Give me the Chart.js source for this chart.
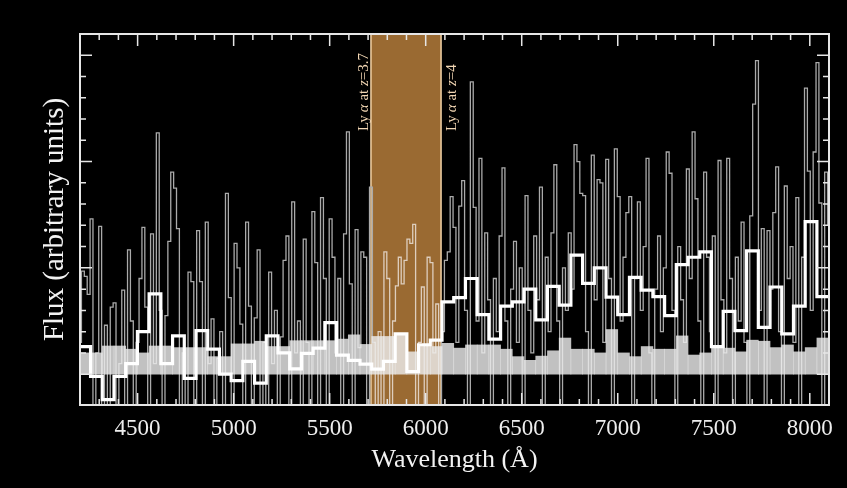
<!DOCTYPE html>
<html>
<head>
<meta charset="utf-8">
<title>Spectrum with Ly-alpha window</title>
<script src="https://cdn.jsdelivr.net/npm/chart.js@4.4.1/dist/chart.umd.min.js"></script>
<style>
  html, body { margin: 0; padding: 0; background: #000; }
  #wrap { width: 847px; height: 488px; }
</style>
</head>
<body>
<div id="wrap"><canvas id="specChart" width="847" height="488"></canvas></div>
<script>
// ================================
// Data
// ================================

// raw spectrum, sampled every 15 A from 4200 A
const specStart = 4200;
const specStep = 15;
const specFlux = [
  0.3, 0.97, 0.92, 0.75, 1.46, -0.6, 0.2, 1.39, -0.5, 0.46,
  -0.8, 0.63, 0.67, -0.4, 0.1, 0.79, -0.7, 1.17, 0.5, -0.5,
  0.3, 0.9, 1.38, 0.63, -0.6, 1.32, 0.1, 2.27, 0.6, -0.7,
  0.55, 1.25, 1.9, 1.75, 1.37, -0.4, 0.2, -0.9, 0.96, 0.87,
  -0.3, 1.35, 0.87, -0.6, 1.43, 0.1, 0.52, -0.8, 0.15, 0.4,
  -0.5, 1.7, 0.72, -0.4, 1.23, 1.0, 0.47, -0.7, 1.43, 0.64,
  -0.3, 0.53, 1.17, -0.6, 0.3, -0.4, 0.96, 0.1, 0.6, -0.8,
  0.35, 1.07, 1.3, -0.5, 1.62, 0.2, 0.5, -0.6, 1.27, 0.3,
  -0.7, 1.53, 1.05, -0.3, 1.66, 0.9, -0.5, 1.46, 1.1, 0.2,
  0.9, -0.6, 1.32, 2.28, 0.85, -0.4, 1.36, 0.25, 1.15, 1.1,
  -0.7, 1.76, 0.3, -0.5, 0.4, -0.3, 1.15, 0.9, -0.6, 0.5,
  0.83, 1.1, 0.85, 1.07, 1.27, 1.23, 1.41, -0.4, 0.3, 0.82,
  -0.6, 1.1, 1.05, 0.2, 0.66, -0.5, 0.4, 1.07, 1.15, 1.67,
  1.38, 0.3, 1.58, 1.82, 0.6, -0.3, 2.75, 1.57, 0.5, 2.03,
  0.2, 1.33, 0.7, -0.4, 0.9, 0.4, 1.3, 1.94, 0.5, -0.5,
  0.8, 1.25, 0.3, 1.0, -0.4, 1.68, 0.6, 0.2, 1.3, 0.7,
  1.76, -0.3, 1.1, 0.4, 1.33, 1.97, 0.5, -0.5, 1.0, 0.6,
  1.33, 0.8, 2.16, 2.0, 1.7, 1.68, 0.4, -0.4, 2.06, 0.7,
  1.83, 1.8, 0.3, 2.02, 0.9, -0.5, 2.12, 1.67, 0.5, 1.1,
  1.52, 1.67, -0.3, 0.9, 1.62, 0.6, 1.2, 2.03, 0.2, -0.6,
  0.8, 1.3, 0.4, 1.0, 2.09, 1.89, 0.6, -0.4, 1.2, 0.7,
  0.3, 1.93, 0.9, 2.28, 1.65, 0.5, -0.3, 1.9, 1.1, 0.4,
  1.3, -0.5, 2.01, 0.7, 0.2, 2.03, 0.9, -0.4, 1.1, 0.5,
  1.43, 0.3, -0.6, 1.49, 2.54, 2.95, 0.6, 1.37, -0.3, 1.35,
  0.8, 1.52, 1.95, 0.4, -0.5, 1.77, 0.9, 1.2, 0.3, 1.66,
  -0.4, 1.1, 2.69, 1.91, 0.6, 2.09, 2.93, 1.61, -0.3, 1.9, 1.4
];

// binned spectrum (white) and error (light grey), bins of 61 A from 4194 A
const binStart = 4194;
const binWidth = 61;
const binFlux = [
  0.26, -0.02, -0.24, -0.02, 0.10, 0.40, 0.755, 0.10, 0.36, -0.04,
  0.41, 0.235, 0.0, -0.06, 0.12, -0.085, 0.36, 0.20, 0.05, 0.195,
  0.245, 0.485, 0.18, 0.13, 0.094, 0.047, 0.12, 0.38, 0.025, 0.275,
  0.32, 0.68, 0.72, 0.90, 0.56, 0.33, 0.64, 0.68, 0.80, 0.51,
  0.825, 0.65, 1.12, 0.855, 1.0, 0.725, 0.56, 0.91, 0.79, 0.73,
  0.55, 1.03, 1.10, 1.15, 0.26, 0.59, 0.41, 1.16, 0.44, 0.82,
  0.38, 0.64, 1.435, 0.73
];
const binError = [
  0.20, 0.20, 0.265, 0.265, 0.235, 0.20, 0.265, 0.265, 0.25, 0.25,
  0.25, 0.165, 0.165, 0.285, 0.285, 0.31, 0.26, 0.26, 0.315, 0.315,
  0.315, 0.315, 0.33, 0.37, 0.28, 0.355, 0.355, 0.38, 0.21, 0.26,
  0.26, 0.29, 0.245, 0.275, 0.275, 0.275, 0.235, 0.165, 0.13, 0.17,
  0.22, 0.34, 0.235, 0.235, 0.20, 0.42, 0.20, 0.165, 0.26, 0.235,
  0.235, 0.36, 0.18, 0.20, 0.245, 0.245, 0.21, 0.32, 0.31, 0.25,
  0.275, 0.21, 0.25, 0.34
];

// Ly-alpha window (z = 3.7 .. 4)
const lyaEdges = [5715, 6080];
const lyaRedshifts = ["3.7", "4"];

const xTickLabels = [4500, 5000, 5500, 6000, 6500, 7000, 7500, 8000];
const xRange = [4200, 8100];
const yRange = [-0.29, 3.2];

const SERIF = '"Liberation Serif", "DejaVu Serif", serif';

// ================================
// Build point lists
// ================================
const specPoints = specFlux.map((v, i) => ({ x: specStart + i * specStep, y: v }));

// white histogram: value held from each bin's left edge to the next
const fluxPoints = binFlux.map((v, k) => ({ x: binStart + k * binWidth, y: v }));
fluxPoints.push({ x: binStart + binFlux.length * binWidth, y: binFlux[binFlux.length - 1] });

// error bins as bars centred in each bin
const errorPoints = binError.map((v, k) => ({ x: binStart + (k + 0.5) * binWidth, y: v }));

const inBand = w => w > lyaEdges[0] && w < lyaEdges[1];

// ================================
// Plugins
// ================================
// black page + the Ly-alpha window, both under every dataset
const backPlugin = {
  id: "back",
  beforeDraw(chart) {
    const { ctx, width, height, chartArea: a, scales: { x } } = chart;
    ctx.save();
    ctx.fillStyle = "#000";
    ctx.fillRect(0, 0, width, height);
    const x0 = x.getPixelForValue(lyaEdges[0]);
    const x1 = x.getPixelForValue(lyaEdges[1]);
    ctx.fillStyle = "#9a6a32";
    ctx.fillRect(x0, a.top, x1 - x0, a.bottom - a.top);
    ctx.strokeStyle = "#f2d2a6";
    ctx.lineWidth = 1.5;
    ctx.beginPath();
    ctx.moveTo(x0, a.top); ctx.lineTo(x0, a.bottom);
    ctx.moveTo(x1, a.top); ctx.lineTo(x1, a.bottom);
    ctx.stroke();
    ctx.restore();
  },
  afterDraw(chart) {
    const { ctx, scales: { x } } = chart;
    drawLyaLabel(ctx, x.getPixelForValue(lyaEdges[0]) - 3, 131, lyaRedshifts[0]);
    drawLyaLabel(ctx, x.getPixelForValue(lyaEdges[1]) + 15, 131, lyaRedshifts[1]);
  }
};

function drawLyaLabel(ctx, bx, by, z) {
  const parts = [["Ly", false], ["\u2009", false], ["\u03b1", true], [" at ", false], ["z", true], ["=" + z, false]];
  ctx.save();
  ctx.translate(bx, by);
  ctx.rotate(-Math.PI / 2);
  ctx.fillStyle = "#f3d7b4";
  ctx.textBaseline = "alphabetic";
  let pos = 0;
  parts.forEach(([t, italic]) => {
    ctx.font = (italic ? "italic " : "") + "15px " + SERIF;
    ctx.fillText(t, pos, 0);
    pos += ctx.measureText(t).width;
  });
  ctx.restore();
}

// frame with inward ticks on all four sides
const framePlugin = {
  id: "frame",
  afterDraw(chart) {
    const { ctx, chartArea: a, scales: { x, y } } = chart;
    ctx.save();
    ctx.strokeStyle = "#e6e6e6";
    ctx.lineWidth = 1.5;
    ctx.beginPath();
    x.ticks.forEach((t, i) => {
      const px = x.getPixelForTick(i);
      const len = t.value % 500 === 0 ? 12 : 6;
      ctx.moveTo(px, a.bottom); ctx.lineTo(px, a.bottom - len);
      ctx.moveTo(px, a.top); ctx.lineTo(px, a.top + len);
    });
    y.ticks.forEach((t, i) => {
      const q = t.value / 0.2;
      if (Math.abs(q - Math.round(q)) > 1e-6) return;
      const py = y.getPixelForTick(i);
      const len = Math.abs(t.value - Math.round(t.value)) < 1e-6 ? 12 : 6;
      ctx.moveTo(a.left, py); ctx.lineTo(a.left + len, py);
      ctx.moveTo(a.right, py); ctx.lineTo(a.right - len, py);
    });
    ctx.stroke();
    ctx.lineWidth = 2;
    ctx.strokeRect(a.left, a.top, a.right - a.left, a.bottom - a.top);
    ctx.restore();
  }
};

// ================================
// Chart
// ================================
new Chart(document.getElementById("specChart"), {
  type: "line",
  data: {
    datasets: [
      {
        label: "binned",
        data: fluxPoints,
        stepped: true,
        borderColor: "#ffffff",
        borderWidth: 3.2,
        pointRadius: 0,
        fill: false
      },
      {
        type: "bar",
        label: "error",
        data: errorPoints,
        backgroundColor: "rgba(236,236,236,0.82)",
        borderWidth: 0,
        barPercentage: 1.0,
        categoryPercentage: 1.0
      },
      {
        label: "spectrum",
        data: specPoints,
        stepped: "middle",
        borderColor: "rgb(170,170,170)",
        borderWidth: 1.3,
        pointRadius: 0,
        fill: false,
        segment: {
          borderColor: c => (inBand(c.p0.parsed.x) && inBand(c.p1.parsed.x) ? "rgb(222,206,190)" : undefined)
        }
      }
    ]
  },
  options: {
    responsive: false,
    animation: false,
    events: [],
    layout: { padding: { top: 34, right: 18, left: 0, bottom: 0 } },
    plugins: { legend: { display: false }, tooltip: { enabled: false } },
    scales: {
      x: {
        type: "linear",
        offset: false,
        min: xRange[0],
        max: xRange[1],
        grid: { display: false, drawTicks: false },
        border: { display: false },
        ticks: {
          stepSize: 100,
          autoSkip: false,
          maxRotation: 0,
          minRotation: 0,
          padding: 10,
          color: "#eeeeee",
          font: { family: SERIF, size: 23 },
          callback: v => (xTickLabels.includes(v) ? String(v) : "")
        },
        title: {
          display: true,
          text: "Wavelength (\u00c5)",
          color: "#f2f2f2",
          font: { family: SERIF, size: 26 },
          padding: { top: 0, bottom: 12 }
        },
        afterFit(scale) { scale.height = 83; }
      },
      y: {
        type: "linear",
        min: yRange[0],
        max: yRange[1],
        grid: { display: false, drawTicks: false },
        border: { display: false },
        ticks: { display: false, stepSize: 0.2 },
        title: {
          display: true,
          text: "Flux (arbitrary units)",
          color: "#f2f2f2",
          font: { family: SERIF, size: 29 },
          padding: { top: 38, bottom: 0 }
        },
        afterFit(scale) { scale.width = 80; }
      }
    }
  },
  plugins: [backPlugin, framePlugin]
});
</script>
</body>
</html>
